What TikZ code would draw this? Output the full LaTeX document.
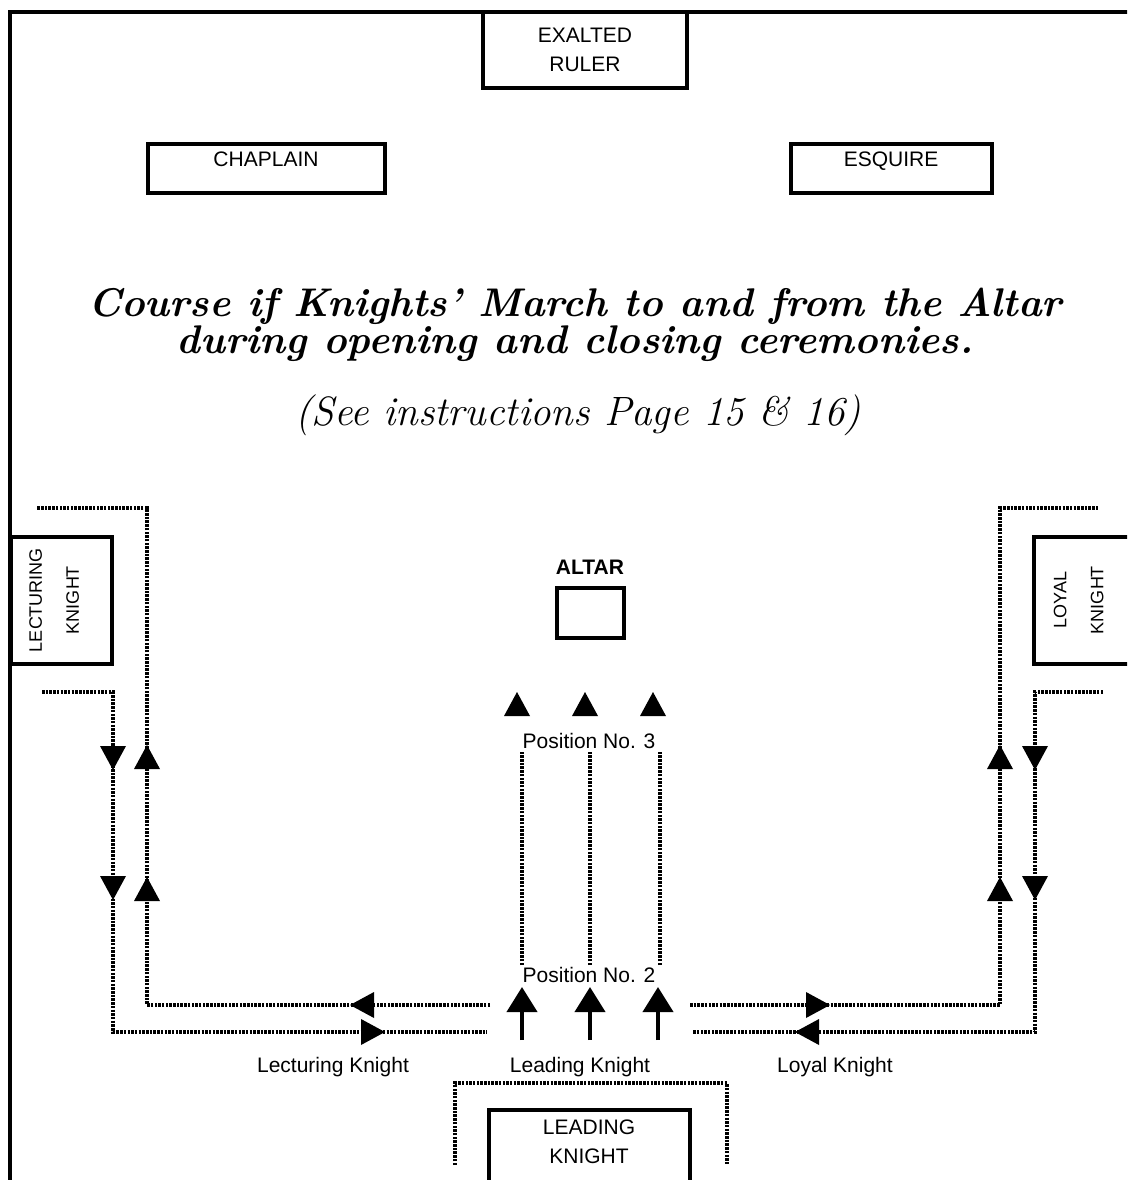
\documentclass[tikz,border=0pt]{standalone}
\usepackage{fontspec}
\setsansfont{Liberation Sans}
\usetikzlibrary{arrows.meta,positioning}
\tikzset{
  post/.style={draw, line width=4pt, inner sep=0pt, align=center,
    font=\sffamily\fontsize{21}{29}\selectfont},
  sidepost/.style={post, rotate=90, font=\sffamily\fontsize{18}{37}\selectfont},
  lbl/.style={inner sep=1pt, font=\sffamily\fontsize{21}{25}\selectfont},
  march/.style={line width=3.5pt, dash pattern=on 2.5pt off 1.2pt},
  lead/.style={line width=4pt, -{Triangle[length=25pt,width=30pt]}},
}
% filled head on a marching route: tip x, tip y, direction
\newcommand{\marchtip}[3]{\fill[shift={(#1,#2)},rotate=#3] (0,0) -- (-24,13) -- (-24,-13) -- cycle;}

\begin{document}
\begin{tikzpicture}[x=1pt,y=-1pt]
            \useasboundingbox (0,0) rectangle (1127,1180);
            \clip (0,0) rectangle (1127,1180);
            % lodge room wall
            \draw[line width=4pt] (10,1190) -- (10,12) -- (1140,12);

            % stations
            \node[post, minimum width=204, minimum height=76] (ruler) at (585,50) {EXALTED\\RULER};
            \node[post, minimum width=237, minimum height=49, text depth=17] (chaplain) at (266,168) {CHAPLAIN};
            \node[post, minimum width=201, minimum height=49, text depth=17] (esquire) at (891,168) {ESQUIRE};
            \node[sidepost, minimum width=127, minimum height=101, text depth=14] (lecturing) at (61,600) {LECTURING\\KNIGHT};
            \node[sidepost, minimum width=127, minimum height=106, text depth=17] (loyal) at (1087,600) {LOYAL\\KNIGHT};
            \node[post, minimum width=201, minimum height=90, text depth=26] (leading) at (589,1155) {LEADING\\KNIGHT};
            \node[post, minimum width=67, minimum height=50] (altar) at (590,613) {};
            \node[lbl, font=\sffamily\bfseries\fontsize{21}{25}\selectfont, above=10pt of altar] (altarlbl) {ALTAR};

            % heading
            \node[align=center, font=\bfseries\itshape\fontsize{40}{37}\selectfont] (title) at (575,325)
              {Course if Knights' March to and from the Altar\\during opening and closing ceremonies.};
            \node[font=\itshape\fontsize{41}{44}\selectfont] (see) at (578,415) {(See instructions Page 15 \& 16)};

            % labels
            \node[lbl] (pos3) at (589,741) {Position No. 3};
            \node[lbl] (pos2) at (589,975) {Position No. 2};
            \node[lbl] (lectlbl) at (333,1067) {Lecturing Knight};
            \node[lbl] (leadlbl) at (580,1067) {Leading Knight};
            \node[lbl] (loyallbl) at (835,1067) {Loyal Knight};

            % route corners, left
            \coordinate (lo1) at (490,1005);
            \coordinate (lo2) at (147,1005);
            \coordinate (lo3) at (147,508);
            \coordinate (lo4) at (37,508);
            \coordinate (li1) at (42,692);
            \coordinate (li2) at (113,692);
            \coordinate (li3) at (113,1032);
            \coordinate (li4) at (487,1032);
            % route corners, right
            \coordinate (ro1) at (690,1005);
            \coordinate (ro2) at (1000,1005);
            \coordinate (ro3) at (1000,508);
            \coordinate (ro4) at (1098,508);
            \coordinate (ri1) at (1103,692);
            \coordinate (ri2) at (1035,692);
            \coordinate (ri3) at (1035,1032);
            \coordinate (ri4) at (692,1032);
            % route round the leading knight
            \coordinate (lk1) at (455,1165);
            \coordinate (lk2) at (455,1083);
            \coordinate (lk3) at (727,1083);
            \coordinate (lk4) at (727,1165);

            \draw[march] (lo1) -- (lo2) -- (lo3) -- (lo4);
            \draw[march] (li1) -- (li2) -- (li3) -- (li4);
            \draw[march] (ro1) -- (ro2) -- (ro3) -- (ro4);
            \draw[march] (ri1) -- (ri2) -- (ri3) -- (ri4);
            \draw[march] (lk1) -- (lk2) -- (lk3) -- (lk4);

            % centre files, position 2 to position 3
            \draw[march] (522,965) -- (522,752);
            \draw[march] (590,965) -- (590,752);
            \draw[march] (660,965) -- (660,752);

            % heads on the routes
            \marchtip{350}{1005}{180}
            \marchtip{147}{877}{90}
            \marchtip{147}{745}{90}
            \marchtip{385}{1032}{0}
            \marchtip{113}{770}{-90}
            \marchtip{113}{900}{-90}
            \marchtip{830}{1005}{0}
            \marchtip{1000}{877}{90}
            \marchtip{1000}{745}{90}
            \marchtip{795}{1032}{180}
            \marchtip{1035}{770}{-90}
            \marchtip{1035}{900}{-90}
            % heads toward the altar
            \marchtip{517}{692}{90}
            \marchtip{585}{692}{90}
            \marchtip{653}{692}{90}

            % leading knight's file steps off
            \coordinate (s1) at (522,1040);
            \coordinate (t1) at (522,987);
            \coordinate (s2) at (590,1040);
            \coordinate (t2) at (590,987);
            \coordinate (s3) at (658,1040);
            \coordinate (t3) at (658,987);
            \draw[lead] (s1) -- (t1);
            \draw[lead] (s2) -- (t2);
            \draw[lead] (s3) -- (t3);
\end{tikzpicture}
\end{document}
